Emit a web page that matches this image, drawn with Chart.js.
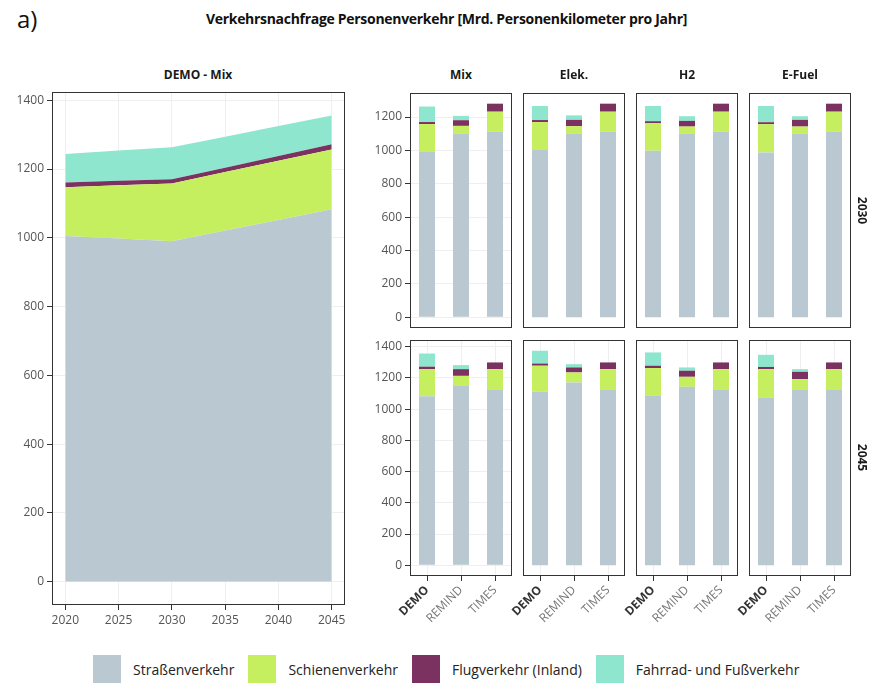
<!DOCTYPE html>
<html>
<head>
<meta charset="utf-8">
<script src="https://cdn.jsdelivr.net/npm/chart.js@4/dist/chart.umd.min.js"></script>
<style>
  body { margin: 0; background: #fff; width: 873px; height: 684px; position: relative; overflow: hidden; font-family: 'Open Sans', sans-serif; }
  .pane { position: absolute; }
  .strip { position: absolute; font-weight: bold; font-size: 12px; color: #1a1a1a; text-align: center; width: 120px; }
  .row { position: absolute; font-weight: bold; font-size: 12px; color: #1a1a1a; transform: rotate(90deg); width: 40px; text-align: center; }
  #title { position: absolute; left: 0; width: 893px; top: 9px; text-align: center; font-weight: bold; font-size: 14px; color: #111; letter-spacing: -0.3px; }
  #tag { position: absolute; left: 17px; top: 2px; font-size: 24px; color: #111; }
  #legend { position: absolute; top: 655px; left: 93px; display: flex; align-items: center; font-size: 14px; color: #222; }
  #legend span.key { display: inline-block; width: 28px; height: 28px; margin-right: 12px; }
  #legend span.txt { margin-right: 14px; }
</style>
</head>
<body>
<div id="tag">a)</div>
<div id="title">Verkehrsnachfrage Personenverkehr [Mrd. Personenkilometer pro Jahr]</div>
<div id="legend"></div>

<script>
// Linke Fläche: DEMO - Mix
var years = [2020, 2025, 2030, 2035, 2040, 2045];
var areaStrasse = [1005, 998, 990, 1021, 1052, 1083];
var areaSchiene = [142, 155, 168, 170, 172, 174];
var areaFlug = [14, 13, 12, 13, 14, 15];
var areaRad = [83, 88, 93, 90, 87, 84];

// Balken: je Jahr, Reihenfolge Mix, Elek., H2, E-Fuel x DEMO, REMIND, TIMES
var scenarios = ['Mix', 'Elek.', 'H2', 'E-Fuel'];
var models = ['DEMO', 'REMIND', 'TIMES'];
var barYears = ['2030', '2045'];

var strasse2030 = [990, 1101, 1113, 1002, 1101, 1113, 998, 1101, 1113, 988, 1101, 1113];
var schiene2030 = [168, 46, 119, 168, 44, 119, 165, 42, 119, 169, 42, 119];
var flug2030 = [12, 34, 48, 12, 38, 48, 12, 34, 48, 12, 40, 48];
var rad2030 = [93, 26, 0, 84, 27, 0, 91, 28, 0, 97, 22, 0];

var strasse2045 = [1083, 1149, 1122, 1113, 1171, 1122, 1085, 1143, 1122, 1074, 1122, 1122];
var schiene2045 = [174, 64, 134, 165, 64, 134, 178, 64, 134, 182, 70, 134];
var flug2045 = [15, 43, 43, 14, 32, 43, 15, 39, 43, 14, 47, 43];
var rad2045 = [84, 26, 0, 82, 21, 0, 85, 21, 0, 78, 17, 0];

var yTicks = [0, 200, 400, 600, 800, 1000, 1200, 1400];
var xTicks = [2020, 2025, 2030, 2035, 2040, 2045];

var sectors = ['Straßenverkehr', 'Schienenverkehr', 'Flugverkehr (Inland)', 'Fahrrad- und Fußverkehr'];
var colors = ['#b9c8d1', '#c6ef5f', '#7b3260', '#8ee6cf'];

var tickFont = { family: 'Open Sans', size: 12 };
var gridCol = '#efefef';

var boxPlugin = {
    id: 'box',
    afterDraw: function (c) {
        var a = c.chartArea, ctx = c.ctx;
        ctx.save();
        ctx.strokeStyle = '#333';
        ctx.lineWidth = 1;
        ctx.strokeRect(Math.round(a.left) + 0.5, Math.round(a.top) + 0.5, Math.round(a.width) - 1, Math.round(a.height) - 1);
        ctx.restore();
    }
};

function noPad(s) {
    s.paddingLeft = 0; s.paddingRight = 0; s.paddingTop = 0; s.paddingBottom = 0;
}

function makeCanvas(left, top, w, h) {
    var d = document.createElement('div');
    d.className = 'pane';
    d.style.left = left + 'px'; d.style.top = top + 'px';
    d.style.width = w + 'px'; d.style.height = h + 'px';
    var cv = document.createElement('canvas');
    d.appendChild(cv);
    document.body.appendChild(d);
    return cv;
}

function addLabel(cls, text, x, y) {
    var d = document.createElement('div');
    d.className = cls;
    d.textContent = text;
    d.style.left = x + 'px';
    d.style.top = y + 'px';
    document.body.appendChild(d);
}

// ---- linke Fläche ----
var areaSets = [areaStrasse, areaSchiene, areaFlug, areaRad];
new Chart(makeCanvas(0, 85, 355, 545), {
    type: 'line',
    data: {
        datasets: areaSets.map(function (vals, k) {
            return {
                label: sectors[k],
                data: years.map(function (y, i) { return { x: y, y: vals[i] }; }),
                backgroundColor: colors[k],
                borderWidth: 0,
                pointRadius: 0,
                tension: 0,
                fill: k === 0 ? 'origin' : '-1'
            };
        })
    },
    options: {
        responsive: true,
        maintainAspectRatio: false,
        animation: false,
        layout: { padding: { top: 7, right: 10, left: 0, bottom: 0 } },
        plugins: { legend: { display: false }, tooltip: { enabled: false } },
        scales: {
            x: {
                type: 'linear', min: 2018.75, max: 2046.25,
                afterBuildTicks: function (s) { s.ticks = xTicks.map(function (v) { return { value: v }; }); },
                afterFit: function (s) { s.height = 25; noPad(s); },
                grid: { color: gridCol, tickColor: '#333', tickLength: 5 },
                border: { display: false },
                ticks: { color: '#555', font: tickFont, padding: 3, maxRotation: 0, callback: function (v) { return String(v); } }
            },
            y: {
                stacked: true, min: -68, max: 1424,
                afterBuildTicks: function (s) { s.ticks = yTicks.map(function (v) { return { value: v }; }); },
                afterFit: function (s) { s.width = 52; noPad(s); },
                grid: { color: gridCol, tickColor: '#333', tickLength: 5 },
                border: { display: false },
                ticks: { color: '#555', font: tickFont, padding: 3, callback: function (v) { return String(v); } }
            }
        }
    },
    plugins: [boxPlugin]
});
addLabel('strip', 'DEMO - Mix', 138, 66);

// ---- Balken-Facetten ----
var barData = {
    '2030': [strasse2030, schiene2030, flug2030, rad2030],
    '2045': [strasse2045, schiene2045, flug2045, rad2045]
};
var colLeft = [410, 523, 636, 749];
var boxW = 102;
var rowTop = [93, 340];
var rowH = [235, 236];

barYears.forEach(function (yr, r) {
    var sets = barData[yr];
    var top = 0;
    for (var i = 0; i < 12; i++) {
        var t = sets[0][i] + sets[1][i] + sets[2][i] + sets[3][i];
        if (t > top) top = t;
    }
    var yMin = -0.05 * top, yMax = 1.05 * top;
    var bottomRow = r === barYears.length - 1;

    scenarios.forEach(function (sc, c) {
        var padL = c === 0 ? 48 : 32;
        var bottomH = bottomRow ? 58 : 2;
        var cv = makeCanvas(colLeft[c] - padL, rowTop[r] - 2, padL + boxW + 2, 2 + rowH[r] + bottomH);
        new Chart(cv, {
            type: 'bar',
            data: {
                labels: models,
                datasets: sets.map(function (arr, k) {
                    return {
                        label: sectors[k],
                        data: arr.slice(c * 3, c * 3 + 3),
                        backgroundColor: colors[k],
                        borderWidth: 0,
                        barPercentage: 0.47,
                        categoryPercentage: 1
                    };
                })
            },
            options: {
                responsive: true,
                maintainAspectRatio: false,
                animation: false,
                layout: { padding: { top: 2, right: 2, left: c === 0 ? 0 : padL, bottom: bottomRow ? 0 : 2 } },
                plugins: { legend: { display: false }, tooltip: { enabled: false } },
                scales: {
                    x: {
                        stacked: true,
                        display: bottomRow,
                        afterFit: function (s) { s.height = bottomRow ? 58 : 0; noPad(s); },
                        grid: { offset: false, color: gridCol, tickColor: '#333', tickLength: 5 },
                        border: { display: false },
                        ticks: {
                            minRotation: 45, maxRotation: 45, padding: 2, autoSkip: false,
                            color: function (ctx) { return ctx.index === 0 ? '#333' : '#777'; },
                            font: function (ctx) { return { family: 'Open Sans', size: 12, weight: ctx.index === 0 ? 'bold' : 'normal' }; }
                        }
                    },
                    y: {
                        stacked: true, min: yMin, max: yMax,
                        display: c === 0,
                        afterBuildTicks: function (s) {
                            s.ticks = yTicks.filter(function (v) { return v <= yMax; }).map(function (v) { return { value: v }; });
                        },
                        afterFit: function (s) { s.width = c === 0 ? 48 : 0; noPad(s); },
                        grid: { color: gridCol, tickColor: '#333', tickLength: 5 },
                        border: { display: false },
                        ticks: { color: '#555', font: tickFont, padding: 3, callback: function (v) { return String(v); } }
                    }
                }
            },
            plugins: [boxPlugin]
        });
        if (r === 0) addLabel('strip', sc, colLeft[c] + boxW / 2 - 60, 66);
    });
    addLabel('row', yr, 842, rowTop[r] + rowH[r] / 2 - 9);
});

// Legende
var lg = document.getElementById('legend');
sectors.forEach(function (s, k) {
    var key = document.createElement('span');
    key.className = 'key';
    key.style.background = colors[k];
    var txt = document.createElement('span');
    txt.className = 'txt';
    txt.textContent = s;
    lg.appendChild(key);
    lg.appendChild(txt);
});
</script>
</body>
</html>
